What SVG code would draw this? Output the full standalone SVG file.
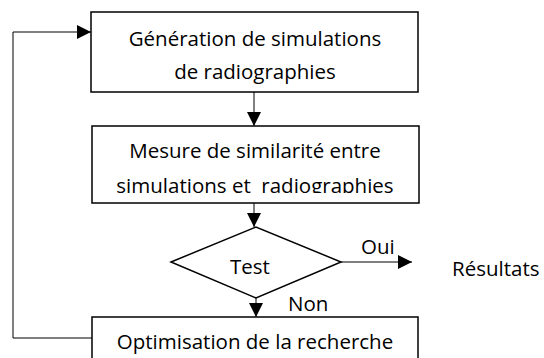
<svg xmlns="http://www.w3.org/2000/svg" width="544" height="358" viewBox="0 0 544 358">
<style>
.box{fill:#fff;stroke:#000;stroke-width:1.5}
.t{font-family:"Open Sans","Liberation Sans",Arial,sans-serif;font-size:20.5px;fill:#000;text-anchor:middle}
.tl{font-family:"Open Sans","Liberation Sans",Arial,sans-serif;font-size:20.5px;fill:#000}
.c{fill:none;stroke:#000;stroke-width:1}
</style>
<defs>
<marker id="ah" markerWidth="14" markerHeight="14" refX="14" refY="7" orient="auto" markerUnits="userSpaceOnUse">
<path d="M0,0 L14,7 L0,14 Z" fill="#000"/>
</marker>
<clipPath id="clip2"><rect x="92" y="126" width="327" height="67"/></clipPath>
</defs>
<rect width="544" height="358" fill="#fff"/>
<g id="connectors">
<line class="c" x1="254" y1="92" x2="254" y2="126" marker-end="url(#ah)"/>
<line class="c" x1="254" y1="203" x2="254" y2="227" marker-end="url(#ah)"/>
<line class="c" x1="256" y1="298" x2="256" y2="317" marker-end="url(#ah)"/>
<line class="c" x1="341" y1="262" x2="412" y2="262" marker-end="url(#ah)"/>
<polyline class="c" stroke="#444" points="92,338 13,338 13,32 91,32" marker-end="url(#ah)"/>
</g>
<g id="n1">
<rect class="box" x="91" y="12" width="327" height="80"/>
<text class="t" x="255" y="46">Génération de simulations</text>
<text class="t" x="255" y="79">de radiographies</text>
</g>
<g id="n2">
<rect class="box" x="92" y="126" width="327" height="77"/>
<text class="t" x="255" y="158">Mesure de similarité entre</text>
<text class="t" x="255" y="193" clip-path="url(#clip2)" xml:space="preserve">simulations et  radiographies</text>
</g>
<g id="n3">
<path class="box" d="M171,262 L256,227 L341,262 L256,298 Z"/>
<text class="t" x="250" y="274">Test</text>
</g>
<g id="n4">
<rect class="box" x="92" y="317" width="326" height="60"/>
<text class="t" x="255" y="349">Optimisation de la recherche</text>
</g>
<g id="labels">
<text class="tl" x="361" y="254">Oui</text>
<text class="tl" x="288" y="311">Non</text>
<text class="tl" x="452" y="276">Résultats</text>
</g>
</svg>
